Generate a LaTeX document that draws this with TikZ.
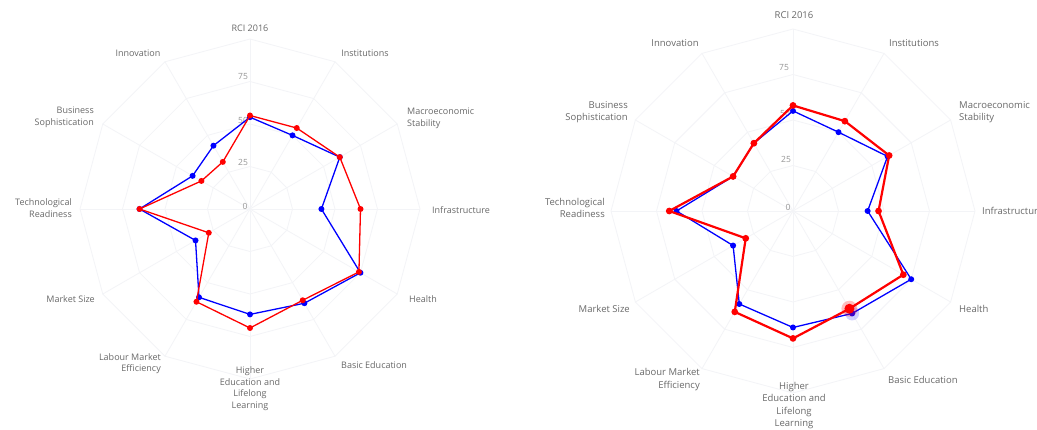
\documentclass[tikz,border=0pt]{standalone}
\usepackage{fontspec}
\setmainfont{Open Sans}
\definecolor{gridc}{RGB}{243,244,247}
\definecolor{labc}{RGB}{105,105,105}
\definecolor{tickc}{RGB}{150,150,150}
\tikzset{
  gridline/.style={draw=gridc, line width=0.8pt},
  axislabel/.style={text=labc, inner sep=0pt},
  ticklabel/.style={text=tickc, inner sep=0pt, font=\fontsize{8.5}{10}\selectfont},
  redtrace/.style={draw=red, line width=1.3pt, line join=round},
  bluetrace/.style={draw=blue, line width=1.3pt, line join=round},
  redtracebold/.style={draw=red, line width=2.2pt, line join=round},
  reddot/.style={fill=red},
  bluedot/.style={fill=blue},
}
% polygonal grid: rings at 25, 50, 75, 100 and twelve spokes (#1 = px per unit)
\newcommand\radargrid[1]{%
  \foreach \r in {25,50,75,100}{%
    \draw[gridline] (-90:{\r*#1}) \foreach \k in {1,...,11}{ -- ({-90+30*\k}:{\r*#1}) } -- cycle;
  }
  \foreach \k in {0,...,11}{\draw[gridline] (0,0) -- ({-90+30*\k}:{100*#1});}
}
% one data trace: #1 scale, #2 twelve values, #3 name prefix, #4 line style, #5 dot style, #6 dot radius
\newcommand\radartrace[6]{%
  \foreach \v [count=\k from 0] in {#2}{\coordinate (#3-\k) at ({-90+30*\k}:{\v*#1});}
  \draw[#4] (#3-0) \foreach \k in {1,...,11}{ -- (#3-\k) } -- cycle;
  \foreach \k in {0,...,11}{\fill[#5] (#3-\k) circle (#6pt);}
}
\begin{document}
\begin{tikzpicture}[x=1pt,y=-1pt]
\useasboundingbox (0,0) rectangle (1037,430);
\fill[white] (0,0) rectangle (1037,430);

% ---------------- left chart ----------------
\begin{scope}[shift={(250,209)}]
  \radargrid{1.7}
  \node[ticklabel] (L-t0) at (-5,-3) {0};
  \node[ticklabel] (L-t25) at (-7,-47) {25};
  \node[ticklabel] (L-t50) at (-7,-89) {50};
  \node[ticklabel] (L-t75) at (-7,-132) {75};
  \radartrace{1.7}{54,50,61,42,75,64,62,60,37,65,39,43}{LB}{bluetrace}{bluedot}{3}
  \radartrace{1.7}{55,55,61,65,74,62,70,63,28,65,33,32}{LR}{redtrace}{reddot}{3}
\end{scope}
\begin{scope}[every node/.style={axislabel, font=\fontsize{9}{11.6}\selectfont}]
  \node (L-rci) at (250,28) {RCI 2016};
  \node (L-inst) at (365,53) {Institutions};
  \node (L-innov) at (138,53) {Innovation};
  \node[anchor=west, align=left] (L-macro) at (407,118) {Macroeconomic\\Stability};
  \node[anchor=east, align=right] (L-bus) at (94,117.5) {Business\\Sophistication};
  \node[anchor=east, align=right] (L-tech) at (72,208) {Technological\\Readiness};
  \node[anchor=west] (L-infra) at (432,210) {Infrastructure};
  \node[anchor=west] (L-health) at (409,299) {Health};
  \node[anchor=east] (L-market) at (95,299) {Market Size};
  \node[anchor=west] (L-basic) at (341,365) {Basic Education};
  \node[anchor=east, align=right] (L-labour) at (161,363.5) {Labour Market\\Efficiency};
  \node[align=center] (L-higher) at (250,388.5) {Higher\\Education and\\Lifelong\\Learning};
\end{scope}

% ---------------- right chart ----------------
\begin{scope}[shift={(793,211)}]
  \radargrid{1.82}
  \node[ticklabel] (R-t0) at (-5,-4) {0};
  \node[ticklabel] (R-t25) at (-7,-52) {25};
  \node[ticklabel] (R-t50) at (-8,-98) {50};
  \node[ticklabel] (R-t75) at (-9,-143) {75};
  \radartrace{1.82}{55,50,60,41,75,65,64,59,38,64,38,43}{RB}{bluetrace}{bluedot}{3}
  \radartrace{1.82}{58,57,61,47,70,62,70,64,30,68,38,43}{RR}{redtracebold}{reddot}{3.4}
  % highlighted Basic Education pair
  \fill[blue, opacity=0.18] (RB-5) circle (7pt);
  \fill[red, opacity=0.25] (RR-5) circle (8pt);
  \fill[red] (RR-5) circle (5pt);
\end{scope}
\begin{scope}[every node/.style={axislabel, font=\fontsize{9.5}{12.3}\selectfont}]
  \node (R-rci) at (794,15) {RCI 2016};
  \node (R-innov) at (675,43) {Innovation};
  \node (R-inst) at (914,43) {Institutions};
  \node[anchor=east, align=right] (R-bus) at (628,112.5) {Business\\Sophistication};
  \node[anchor=west, align=left] (R-macro) at (959,112) {Macroeconomic\\Stability};
  \node[anchor=east, align=right] (R-tech) at (605,208) {Technological\\Readiness};
  \node[anchor=west] (R-infra) at (982,211) {Infrastructure};
  \node[anchor=west] (R-health) at (959,309) {Health};
  \node[anchor=east] (R-market) at (630,309) {Market Size};
  \node[anchor=west] (R-basic) at (888,380) {Basic Education};
  \node[anchor=east, align=right] (R-labour) at (700,379.5) {Labour Market\\Efficiency};
  \node[align=center] (R-higher) at (794,405.5) {Higher\\Education and\\Lifelong\\Learning};
\end{scope}
\end{tikzpicture}
\end{document}
